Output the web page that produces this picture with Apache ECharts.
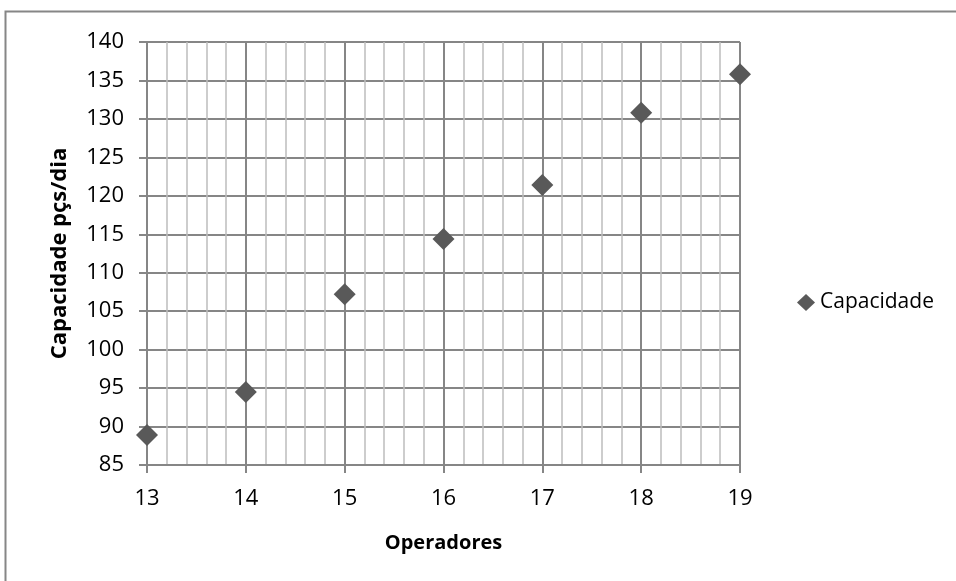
<!DOCTYPE html>
<html>
<head>
<meta charset="utf-8">
<script src="https://cdn.jsdelivr.net/npm/echarts@6/dist/echarts.min.js"></script>
<style>html,body{margin:0;padding:0;background:#fff}#c{width:956px;height:581px}</style>
</head>
<body>
<div id="c"></div>
<script>
const operadores = [13, 14, 15, 16, 17, 18, 19];
const capacidade = [88.9, 94.5, 107.2, 114.4, 121.4, 130.8, 135.8];
const seriesName = 'Capacidade';
const xTitle = 'Operadores';
const yTitle = 'Capacidade pçs/dia';

const chart = echarts.init(document.getElementById('c'));
const font = '"Open Sans", "Noto Sans", sans-serif';
chart.setOption({
  animation: false,
  backgroundColor: '#fff',
  graphic: [{
    type: 'rect', shape: {x: 5.5, y: 11.5, width: 1000, height: 1000},
    style: {fill: 'none', stroke: '#868686', lineWidth: 2}, silent: true, z: -10
  }],
  grid: {left: 147, right: 216, top: 42, bottom: 116},
  legend: {
    data: [{name: seriesName, icon: 'diamond'}],
    left: 792, top: 287, itemWidth: 18, itemHeight: 17, itemGap: 4,
    textStyle: {fontFamily: font, fontSize: 21, color: '#000', padding: [0, 0, 0, 0]}
  },
  xAxis: {
    type: 'value', min: 13, max: 19, interval: 1,
    name: xTitle, nameLocation: 'middle', nameGap: 68,
    nameTextStyle: {fontFamily: font, fontSize: 20, fontWeight: 'bold', color: '#000'},
    axisLine: {show: true, lineStyle: {color: '#868686', width: 2}},
    axisTick: {show: true, length: 8, lineStyle: {color: '#868686', width: 2}},
    axisLabel: {fontFamily: font, fontSize: 22, color: '#000', margin: 23},
    splitLine: {show: true, lineStyle: {color: '#868686', width: 2}},
    minorTick: {show: false, splitNumber: 5},
    minorSplitLine: {show: true, lineStyle: {color: '#bdbdbd', width: 1.5}}
  },
  yAxis: {
    type: 'value', min: 85, max: 140, interval: 5,
    name: yTitle, nameLocation: 'middle', nameGap: 76, nameRotate: 90,
    nameTextStyle: {fontFamily: font, fontSize: 22, fontWeight: 'bold', color: '#000'},
    axisLine: {show: true, lineStyle: {color: '#868686', width: 2}},
    axisTick: {show: true, length: 8, lineStyle: {color: '#868686', width: 2}},
    axisLabel: {fontFamily: font, fontSize: 22, color: '#000', margin: 23},
    splitLine: {show: true, lineStyle: {color: '#868686', width: 2}}
  },
  series: [{
    name: seriesName, type: 'scatter', symbol: 'diamond', symbolSize: 22,
    itemStyle: {color: '#595959', opacity: 1},
    data: operadores.map((x, i) => [x, capacidade[i]])
  }]
});
</script>
</body>
</html>
